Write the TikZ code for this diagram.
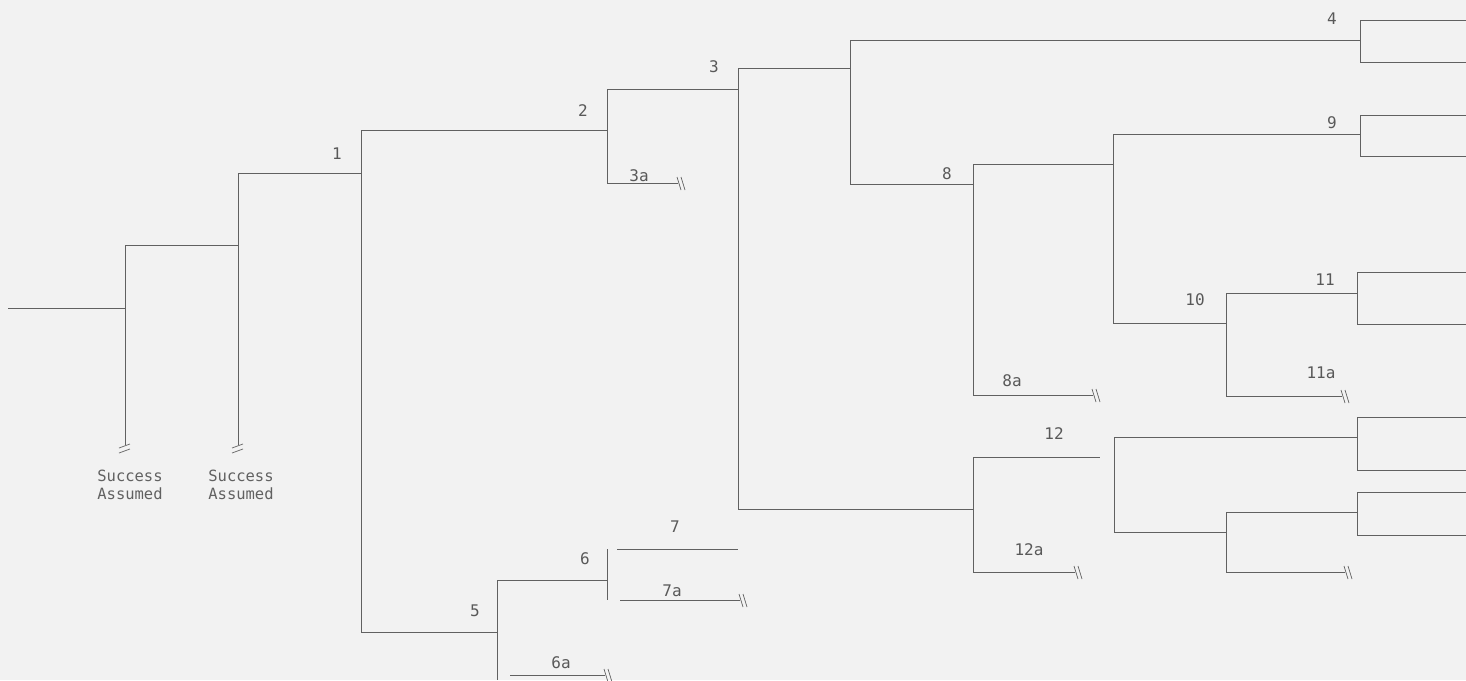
\documentclass[tikz,border=0pt]{standalone}
\usepackage{fontspec}
\newfontfamily\twfont{DejaVu Sans Mono}
\begin{document}
\begin{tikzpicture}[x=1pt,y=-1pt,
  ln/.style={draw=black!62,line width=0.85pt},
  lbl/.style={font=\twfont\fontsize{16}{18}\selectfont,text=black!65,inner sep=0pt},
  sa/.style={font=\twfont\fontsize{15.5}{18}\selectfont,text=black!62,align=center,inner sep=0pt},
  brk/.pic={\draw[black!62,line width=0.7pt] (-1,-6)--(3,7) (3,-6)--(7,7);},
  vbrk/.pic={\draw[black!62,line width=0.7pt] (-6,3)--(5,-1) (-6,8)--(5,4);}]
\fill[white!95!black] (0,0) rectangle (1466,680);
\useasboundingbox (0,0) rectangle (1466,680);
% coordinates
\coordinate (s0) at (8,308);
\coordinate (a) at (125,308);
\coordinate (at) at (125,245);
\coordinate (ab) at (125,445);
\coordinate (b) at (238,245);
\coordinate (bt) at (238,173);
\coordinate (bb) at (238,445);
\coordinate (n1) at (361,173);
\coordinate (n1t) at (361,130);
\coordinate (n1b) at (361,632);
\coordinate (n2) at (607,130);
\coordinate (n2t) at (607,89);
\coordinate (n2b) at (607,183);
\coordinate (e3a) at (678,183);
\coordinate (n3) at (738,89);
\coordinate (n3t) at (738,68);
\coordinate (n3b) at (738,509);
\coordinate (n4) at (850,68);
\coordinate (n4t) at (850,40);
\coordinate (n4b) at (850,184);
\coordinate (k4) at (1360,40);
\coordinate (k4t) at (1360,20);
\coordinate (k4b) at (1360,62);
\coordinate (r4t) at (1466,20);
\coordinate (r4b) at (1466,62);
\coordinate (n8) at (973,184);
\coordinate (n8t) at (973,164);
\coordinate (n8b) at (973,395);
\coordinate (e8a) at (1093,395);
\coordinate (n9) at (1113,164);
\coordinate (n9t) at (1113,134);
\coordinate (n9b) at (1113,323);
\coordinate (k9) at (1360,134);
\coordinate (k9t) at (1360,115);
\coordinate (k9b) at (1360,156);
\coordinate (r9t) at (1466,115);
\coordinate (r9b) at (1466,156);
\coordinate (n10) at (1226,323);
\coordinate (n10t) at (1226,293);
\coordinate (n10b) at (1226,396);
\coordinate (e11a) at (1342,396);
\coordinate (k11) at (1357,293);
\coordinate (k11t) at (1357,272);
\coordinate (k11b) at (1357,324);
\coordinate (r11t) at (1466,272);
\coordinate (r11b) at (1466,324);
\coordinate (n12) at (973,509);
\coordinate (n12t) at (973,457);
\coordinate (n12b) at (973,572);
\coordinate (e12) at (1100,457);
\coordinate (e12a) at (1075,572);
\coordinate (m1t) at (1114,437);
\coordinate (m1b) at (1114,532);
\coordinate (k13) at (1357,437);
\coordinate (k13t) at (1357,417);
\coordinate (k13b) at (1357,470);
\coordinate (r13t) at (1466,417);
\coordinate (r13b) at (1466,470);
\coordinate (m2) at (1226,532);
\coordinate (m2t) at (1226,512);
\coordinate (m2b) at (1226,572);
\coordinate (k14) at (1357,512);
\coordinate (k14t) at (1357,492);
\coordinate (k14b) at (1357,535);
\coordinate (r14t) at (1466,492);
\coordinate (r14b) at (1466,535);
\coordinate (e14) at (1345,572);
\coordinate (n5) at (497,632);
\coordinate (n5t) at (497,580);
\coordinate (n5b) at (497,680);
\coordinate (n6) at (607,580);
\coordinate (n6t) at (607,549);
\coordinate (n6b) at (607,600);
\coordinate (s7) at (617,549);
\coordinate (e7) at (738,549);
\coordinate (s7a) at (620,600);
\coordinate (e7a) at (740,600);
\coordinate (s6a) at (510,675);
\coordinate (e6a) at (605,675);
% lines
\draw[ln] (s0) -- (a);
\draw[ln] (at) -- (ab);
\draw[ln] (at) -- (b);
\draw[ln] (bt) -- (bb);
\draw[ln] (bt) -- (n1);
\draw[ln] (n1t) -- (n1b);
\draw[ln] (n1t) -- (n2);
\draw[ln] (n2t) -- (n2b);
\draw[ln] (n2b) -- (e3a);
\draw[ln] (n2t) -- (n3);
\draw[ln] (n3t) -- (n3b);
\draw[ln] (n3t) -- (n4);
\draw[ln] (n4t) -- (n4b);
\draw[ln] (n4t) -- (k4);
\draw[ln] (r4t) -- (k4t) -- (k4b) -- (r4b);
\draw[ln] (n4b) -- (n8);
\draw[ln] (n8t) -- (n8b);
\draw[ln] (n8b) -- (e8a);
\draw[ln] (n8t) -- (n9);
\draw[ln] (n9t) -- (n9b);
\draw[ln] (n9t) -- (k9);
\draw[ln] (r9t) -- (k9t) -- (k9b) -- (r9b);
\draw[ln] (n9b) -- (n10);
\draw[ln] (n10t) -- (n10b);
\draw[ln] (n10t) -- (k11);
\draw[ln] (r11t) -- (k11t) -- (k11b) -- (r11b);
\draw[ln] (n10b) -- (e11a);
\draw[ln] (n3b) -- (n12);
\draw[ln] (n12t) -- (n12b);
\draw[ln] (n12t) -- (e12);
\draw[ln] (n12b) -- (e12a);
\draw[ln] (m1t) -- (m1b);
\draw[ln] (m1t) -- (k13);
\draw[ln] (r13t) -- (k13t) -- (k13b) -- (r13b);
\draw[ln] (m1b) -- (m2);
\draw[ln] (m2t) -- (m2b);
\draw[ln] (m2t) -- (k14);
\draw[ln] (r14t) -- (k14t) -- (k14b) -- (r14b);
\draw[ln] (m2b) -- (e14);
\draw[ln] (n1b) -- (n5);
\draw[ln] (n5t) -- (n5b);
\draw[ln] (n5t) -- (n6);
\draw[ln] (n6t) -- (n6b);
\draw[ln] (s7) -- (e7);
\draw[ln] (s7a) -- (e7a);
\draw[ln] (s6a) -- (e6a);
% break marks
\pic at (e3a) {brk};
\pic at (e8a) {brk};
\pic at (e11a) {brk};
\pic at (e12a) {brk};
\pic at (e14) {brk};
\pic at (e7a) {brk};
\pic at (e6a) {brk};
\pic at (ab) {vbrk};
\pic at (bb) {vbrk};
% labels
\node[lbl] (l1) at (337,154) {1};
\node[lbl] (l2) at (583,111) {2};
\node[lbl] (l3) at (714,67) {3};
\node[lbl] (l3a) at (639,176) {3a};
\node[lbl] (l4) at (1332,19) {4};
\node[lbl] (l5) at (475,611) {5};
\node[lbl] (l6) at (585,559) {6};
\node[lbl] (l6a) at (561,663) {6a};
\node[lbl] (l7) at (675,527) {7};
\node[lbl] (l7a) at (672,591) {7a};
\node[lbl] (l8) at (947,174) {8};
\node[lbl] (l8a) at (1012,381) {8a};
\node[lbl] (l9) at (1332,123) {9};
\node[lbl] (l10) at (1195,300) {10};
\node[lbl] (l11) at (1325,280) {11};
\node[lbl] (l11a) at (1321,373) {11a};
\node[lbl] (l12) at (1054,434) {12};
\node[lbl] (l12a) at (1029,550) {12a};
\node[sa] (sa1) at (130,485) {Success\\Assumed};
\node[sa] (sa2) at (241,485) {Success\\Assumed};
\end{tikzpicture}
\end{document}
